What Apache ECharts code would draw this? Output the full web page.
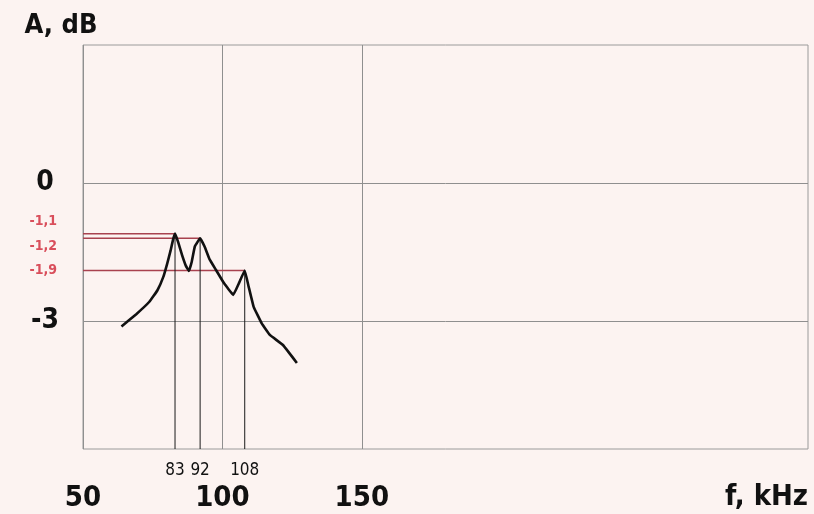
<!DOCTYPE html>
<html>
<head>
<meta charset="utf-8">
<script src="https://cdn.jsdelivr.net/npm/echarts@6/dist/echarts.min.js"></script>
<style>
  html, body { margin: 0; padding: 0; background: #fcf3f1; }
  #chart { width: 814px; height: 514px; }
</style>
</head>
<body>
<div id="chart"></div>
<script>
// Frequency response
const freqKHz = [63.8, 69.1, 73.8, 76.7, 78.8, 80.2, 81.4, 82.3, 83, 84.1, 85.5, 86.9, 88.0, 89.0, 90.1, 92, 93.6, 95.4, 97.7, 100.6, 103.9, 105.9, 108, 109.4, 111.2, 114.1, 117.0, 121.7, 126.7];
const levelDB = [-3.12, -2.85, -2.58, -2.33, -2.04, -1.75, -1.47, -1.23, -1.1, -1.28, -1.56, -1.80, -1.91, -1.71, -1.38, -1.2, -1.38, -1.66, -1.89, -2.18, -2.43, -2.18, -1.9, -2.25, -2.69, -3.05, -3.30, -3.52, -3.91];

// Annotated resonance peaks
const peakFreqs = [83, 92, 108];
const peakLevels = [-1.1, -1.2, -1.9];

// Tick labels
const xTicks = [50, 100, 150];
const yTicks = [0, -3];

const X_MIN = 50, X_MAX = 310, Y_MIN = -5.78, Y_MAX = 3;
const FONT = '"DejaVu Sans Condensed", "DejaVu Sans", sans-serif';

const curve = freqKHz.map((f, i) => [f, levelDB[i]]);
const redLines = [];
const blackLines = [];
peakFreqs.forEach((f, i) => {
  redLines.push([X_MIN, peakLevels[i]], [f, peakLevels[i]], '-');
  blackLines.push([f, peakLevels[i]], [f, Y_MIN], '-');
});
const labelOffsets = [[0, -12], [0, 8], [0, 0]];
const labelPoints = peakLevels.map((v, i) => ({
  value: [X_MIN, v],
  label: { offset: labelOffsets[i] }
}));

const chart = echarts.init(document.getElementById('chart'), null, { renderer: 'canvas' });
chart.setOption({
  backgroundColor: '#fcf3f1',
  animation: false,
  grid: { left: 83, right: 6, top: 45, bottom: 65, show: true, borderColor: '#9a9a9a', borderWidth: 1, backgroundColor: 'transparent' },
  graphic: [
    {
      type: 'text', right: 6, top: 483,
      style: { text: 'f, kHz', font: 'bold 29px "DejaVu Sans Condensed", "DejaVu Sans", sans-serif', fill: '#111' }
    }
  ],
  xAxis: [
    {
      type: 'value', min: X_MIN, max: X_MAX,
      axisLine: { show: false },
      axisTick: { show: false, customValues: xTicks },
      axisLabel: { customValues: xTicks, margin: 35, fontFamily: FONT, fontWeight: 'bold', fontSize: 29, color: '#111' },
      splitLine: { show: true, lineStyle: { color: '#8f8f8f', width: 1 } }
    },
    {
      type: 'value', min: X_MIN, max: X_MAX, position: 'bottom',
      axisLine: { show: false },
      axisTick: { show: false, customValues: peakFreqs },
      axisLabel: { customValues: peakFreqs, margin: 13, fontFamily: FONT, fontSize: 17, color: '#111' },
      splitLine: { show: false }
    }
  ],
  yAxis: {
    type: 'value', min: Y_MIN, max: Y_MAX,
    name: 'A, dB', nameLocation: 'end', nameGap: 6,
    nameTextStyle: { fontFamily: FONT, fontWeight: 'bold', fontSize: 27, color: '#111', align: 'center', padding: [0, 44, 0, 0] },
    axisLine: { show: false },
    axisTick: { show: false, customValues: yTicks },
    axisLabel: { customValues: yTicks, margin: 38, align: 'center', fontFamily: FONT, fontWeight: 'bold', fontSize: 28, color: '#111' },
    splitLine: { show: true, lineStyle: { color: '#8f8f8f', width: 1 } }
  },
  series: [
    {
      type: 'line', data: redLines, symbol: 'none', connectNulls: false,
      lineStyle: { color: '#a8424f', width: 1.5 }, z: 3
    },
    {
      type: 'line', data: blackLines, symbol: 'none', connectNulls: false,
      lineStyle: { color: '#1a1a1a', width: 1 }, z: 3
    },
    {
      type: 'line', data: curve, symbol: 'none', smooth: 0.08,
      lineStyle: { color: '#111', width: 2.6, join: 'miter' }, z: 4
    },
    {
      type: 'scatter', data: labelPoints, symbolSize: 0, silent: true,
      label: {
        show: true, position: 'left', distance: 26,
        formatter: p => p.value[1].toFixed(1).replace('.', ','),
        fontFamily: FONT, fontWeight: 'bold', fontSize: 14, color: '#cf2436'
      },
      z: 5
    }
  ]
});
</script>
</body>
</html>
